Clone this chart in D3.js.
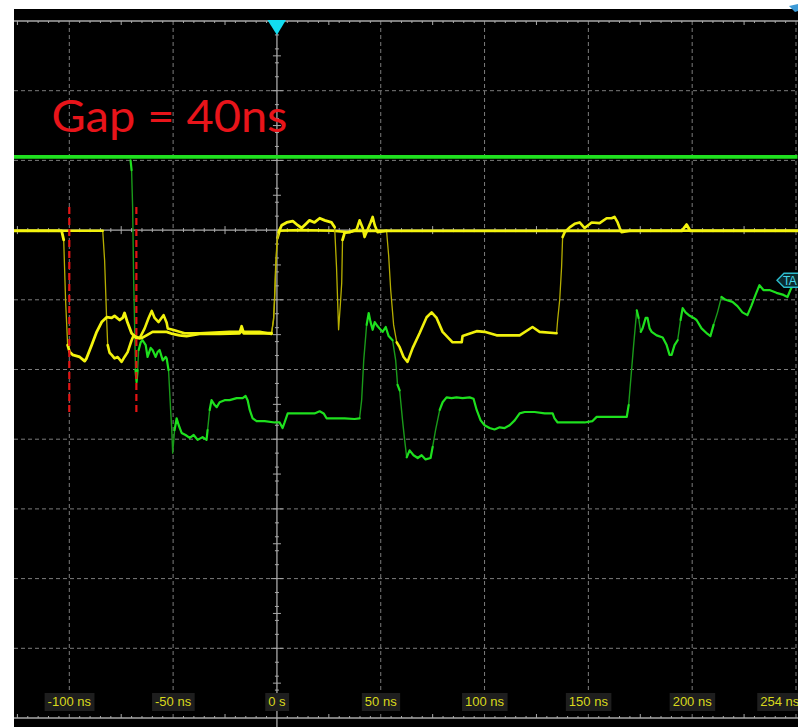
<!DOCTYPE html>
<html>
<head>
<meta charset="utf-8">
<script src="https://cdn.jsdelivr.net/npm/d3@7"></script>
<style>
  html, body { margin: 0; padding: 0; background: #ffffff; }
  svg { display: block; }
</style>
</head>
<body>
<svg id="scope" width="798" height="727"></svg>
<script>
// ---- Horizontal axis (time, ns) ----
const timeTicks = [-100, -50, 0, 50, 100, 150, 200];
const timeTickLabels = ["-100 ns", "-50 ns", "0 s", "50 ns", "100 ns", "150 ns", "200 ns"];
const endTime = 254;
const endTimeLabel = "254 ns";
const gridTimes = [-100, -50, 50, 100, 150, 200, 250];
// ---- Vertical graticule (divisions) ----
const gridLevels = [2, 1, -1, -2, -3, -4, -5, -6];
const frameLevels = [3, 0, -7];

// ---- Annotation and cursors ----
const annotationText = "Gap = 40ns";
const cursorTimes = [-100, -67.7];
const cursorSpan = [0.33, -2.61];
const triggerTime = 0;
const refMarkerLevel = -0.72;
const refMarkerText = "TA";

// ---- Channel traces: [time ns, level div] ----
const greenIdle = [[-126.8, 1.05], [250.7, 1.05]];

const greenData = [
  [-70.5, 1.00], [-70.0, 0.86], [-69.5, 0.33], [-69.0, -0.72], [-68.5, -1.43], [-68.1, -2.01],
  [-67.6, -2.18], [-67.1, -2.01], [-66.6, -1.72], [-65.6, -1.61], [-64.7, -1.58], [-63.2, -1.65],
  [-62.3, -1.82], [-60.8, -1.69], [-59.9, -1.72], [-58.4, -1.82], [-57.5, -1.75], [-56.5, -1.72],
  [-55.0, -1.87], [-53.6, -1.82], [-53.1, -1.84], [-52.2, -2.01], [-51.2, -2.58], [-50.7, -2.83],
  [-50.2, -3.20], [-49.3, -2.87], [-48.3, -2.70], [-47.3, -2.80], [-45.9, -2.91], [-44.0, -2.94],
  [-42.0, -2.98], [-40.1, -2.94], [-38.2, -3.01], [-35.8, -2.97], [-33.9, -3.01], [-33.4, -2.87],
  [-32.4, -2.58], [-31.5, -2.44], [-30.0, -2.51], [-29.0, -2.54], [-27.6, -2.47], [-25.2, -2.44],
  [-22.8, -2.44], [-19.4, -2.41], [-16.5, -2.41], [-15.1, -2.38], [-14.1, -2.44], [-13.1, -2.58],
  [-11.7, -2.70], [-9.8, -2.74], [-5.9, -2.74], [-1.1, -2.76], [1.3, -2.76], [2.7, -2.84],
  [3.7, -2.76], [5.2, -2.63], [8.5, -2.63], [13.3, -2.63], [18.1, -2.63], [20.6, -2.60],
  [22.5, -2.63], [23.9, -2.70], [27.8, -2.70], [32.6, -2.70], [37.4, -2.71], [39.8, -2.70],
  [40.8, -2.44], [41.8, -1.87], [43.2, -1.36], [44.2, -1.19], [45.1, -1.32], [46.1, -1.43],
  [47.1, -1.32], [48.5, -1.38], [50.9, -1.46], [52.4, -1.39], [53.8, -1.52], [55.7, -1.58],
  [57.2, -1.87], [58.1, -2.22], [59.1, -2.30], [60.5, -2.73], [61.5, -3.01], [62.5, -3.26],
  [63.9, -3.16], [65.8, -3.23], [67.8, -3.27], [69.7, -3.23], [71.6, -3.29], [74.0, -3.27],
  [75.0, -3.11], [76.4, -2.87], [78.4, -2.58], [79.8, -2.47], [81.7, -2.40], [84.1, -2.41],
  [86.5, -2.40], [89.4, -2.41], [92.8, -2.40], [94.7, -2.42], [96.2, -2.58], [98.1, -2.73],
  [100.0, -2.80], [102.4, -2.84], [104.8, -2.86], [107.3, -2.83], [109.7, -2.84], [112.1, -2.80],
  [114.5, -2.73], [116.9, -2.63], [119.3, -2.61], [124.1, -2.61], [129.0, -2.63], [132.8, -2.63],
  [133.7, -2.70], [135.2, -2.76], [138.6, -2.76], [143.4, -2.76], [148.2, -2.76], [152.0, -2.74],
  [154.0, -2.68], [157.8, -2.68], [162.6, -2.68], [168.5, -2.68], [169.4, -2.51], [170.4, -2.15],
  [171.8, -1.65], [173.3, -1.15], [174.2, -1.26], [175.2, -1.46], [176.1, -1.41], [177.6, -1.26],
  [178.5, -1.26], [179.5, -1.41], [180.5, -1.46], [182.9, -1.51], [185.8, -1.54], [187.7, -1.65],
  [189.1, -1.79], [190.1, -1.79], [191.5, -1.65], [193.0, -1.58], [194.4, -1.29], [195.4, -1.12],
  [196.8, -1.18], [198.8, -1.23], [200.7, -1.26], [202.1, -1.29], [204.5, -1.41], [207.4, -1.49],
  [208.8, -1.52], [210.3, -1.36], [212.2, -1.18], [214.1, -0.96], [216.1, -1.00], [219.4, -1.03],
  [221.8, -1.09], [224.2, -1.18], [226.6, -1.22], [228.6, -1.08], [230.5, -0.93], [232.4, -0.79],
  [234.3, -0.86], [237.2, -0.86], [240.6, -0.90], [244.0, -0.93], [245.9, -0.96], [247.3, -0.86],
  [248.8, -0.77], [250.7, -0.72]
];

const yellowA = [
  [-126.8, -0.01], [-103.7, -0.01], [-102.7, -0.14], [-101.8, -1.00], [-100.8, -1.65], [-99.8, -1.75],
  [-98.4, -1.79], [-95.0, -1.82], [-92.6, -1.88], [-91.7, -1.84], [-89.2, -1.65], [-86.8, -1.46],
  [-84.4, -1.32], [-82.0, -1.25], [-79.6, -1.26], [-78.2, -1.23], [-75.8, -1.29], [-74.3, -1.26],
  [-73.4, -1.19], [-71.9, -1.33], [-70.0, -1.48], [-67.6, -1.55], [-65.2, -1.55], [-62.8, -1.51],
  [-59.9, -1.46], [-53.1, -1.46], [-50.2, -1.49], [-46.9, -1.51], [-43.5, -1.52], [-37.2, -1.49],
  [-27.6, -1.49], [-18.0, -1.48], [-17.0, -1.38], [-16.0, -1.48], [-8.3, -1.48], [-2.6, -1.48],
  [-1.6, -1.29], [-1.1, -1.00], [-0.6, -0.57], [-0.1, -0.22], [0.8, -0.03], [2.3, 0.07],
  [4.7, 0.11], [7.6, 0.13], [10.0, 0.07], [11.9, 0.03], [14.3, 0.10], [15.7, 0.14],
  [18.1, 0.11], [20.6, 0.17], [23.0, 0.14], [26.3, 0.11], [27.8, 0.04], [28.7, -0.53],
  [29.7, -1.43], [30.7, -1.00], [31.2, -0.76], [31.6, -0.14], [32.6, -0.04], [37.4, -0.01],
  [195.0, -0.01], [197.3, 0.08], [199.0, -0.01], [250.7, -0.01]
];

const yellowB = [
  [-126.8, -0.01], [-83.9, -0.01], [-83.0, -0.43], [-82.0, -1.29], [-81.5, -1.65], [-80.6, -1.76],
  [-79.6, -1.79], [-78.2, -1.84], [-76.7, -1.82], [-74.8, -1.89], [-73.4, -1.82], [-71.9, -1.75],
  [-70.0, -1.58], [-69.0, -1.51], [-66.1, -1.55], [-63.7, -1.41], [-61.8, -1.26], [-60.3, -1.16],
  [-58.9, -1.26], [-57.0, -1.32], [-54.6, -1.22], [-53.1, -1.33], [-52.6, -1.41], [-50.2, -1.43],
  [-44.5, -1.48], [-37.2, -1.48], [-22.8, -1.46], [-8.3, -1.46], [-2.6, -1.49], [-1.6, -1.26],
  [-1.1, -0.93], [-0.6, -0.50], [0.3, -0.11], [1.3, -0.01], [10.9, 0.00], [26.8, -0.01],
  [35.0, -0.03], [38.4, 0.01], [39.8, 0.14], [41.3, 0.03], [42.2, -0.10], [43.7, 0.01],
  [45.1, 0.11], [46.1, 0.19], [47.1, 0.07], [48.5, -0.03], [52.8, -0.01], [53.8, -0.36],
  [54.8, -0.86], [56.2, -1.36], [57.7, -1.61], [59.1, -1.68], [61.0, -1.82], [62.9, -1.89],
  [65.4, -1.69], [68.7, -1.48], [72.1, -1.25], [74.5, -1.18], [76.9, -1.26], [79.8, -1.46],
  [84.6, -1.61], [89.0, -1.61], [89.4, -1.52], [96.2, -1.45], [100.0, -1.46], [105.8, -1.51],
  [116.9, -1.51], [123.1, -1.39], [126.5, -1.46], [134.7, -1.48], [135.2, -1.29], [136.2, -1.00],
  [137.1, -0.53], [137.6, -0.10], [138.6, -0.03], [141.0, 0.04], [143.4, 0.09], [145.8, 0.11],
  [148.2, 0.03], [151.6, 0.11], [155.4, 0.10], [158.8, 0.17], [161.2, 0.17], [162.6, 0.19],
  [164.1, 0.11], [165.1, 0.03], [166.0, -0.03], [169.9, -0.01], [250.7, -0.01]
];

// ---- Layout ----
const W = 798, H = 727;
const screen = { left: 14, top: 9, right: 798, bottom: 727 };

const svg = d3.select("#scope");
const x = d3.scaleLinear().domain([-100, 250]).range([69.3, 796]);
const y = d3.scaleLinear().domain([3, -7]).range([21, 718]);

svg.append("rect").attr("x", 0).attr("y", 0).attr("width", W).attr("height", H).attr("fill", "#ffffff");
svg.append("rect")
  .attr("x", screen.left).attr("y", screen.top)
  .attr("width", screen.right - screen.left).attr("height", screen.bottom - screen.top)
  .attr("fill", "#000000");

svg.append("clipPath").attr("id", "screenClip")
  .append("rect")
  .attr("x", screen.left).attr("y", screen.top)
  .attr("width", screen.right - screen.left).attr("height", screen.bottom - screen.top);

const g = svg.append("g").attr("clip-path", "url(#screenClip)");

// ---- Graticule ----
const grid = g.append("g");
grid.selectAll("line.vgrid").data(gridTimes).join("line")
  .attr("x1", d => x(d)).attr("x2", d => x(d))
  .attr("y1", y(3)).attr("y2", y(-7))
  .attr("stroke", "#7c7c7c").attr("stroke-width", 1).attr("stroke-dasharray", "4,3");
grid.selectAll("line.hgrid").data(gridLevels).join("line")
  .attr("x1", screen.left).attr("x2", screen.right)
  .attr("y1", d => y(d)).attr("y2", d => y(d))
  .attr("stroke", "#7c7c7c").attr("stroke-width", 1).attr("stroke-dasharray", "4,3");

// solid frame lines and centre axes
grid.selectAll("line.frame").data(frameLevels).join("line")
  .attr("x1", screen.left).attr("x2", screen.right)
  .attr("y1", d => y(d)).attr("y2", d => y(d))
  .attr("stroke", "#a9a9a9").attr("stroke-width", 1.3);
grid.append("line")
  .attr("x1", x(0)).attr("x2", x(0)).attr("y1", y(3)).attr("y2", screen.bottom)
  .attr("stroke", "#a9a9a9").attr("stroke-width", 1.3);

// minor ticks along horizontal frame lines (every 5 ns, longer every 25 ns)
const minorTimes = d3.range(-125, 255, 5).filter(t => t % 50 !== 0);
frameLevels.forEach(lv => {
  const dir = lv === 3 ? 1 : (lv === -7 ? -1 : 0);
  grid.selectAll(null).data(minorTimes).join("line")
    .attr("x1", d => x(d)).attr("x2", d => x(d))
    .attr("y1", d => {
      const len = (d % 25 === 0) ? 4 : 2;
      return dir === 0 ? y(lv) - len : y(lv);
    })
    .attr("y2", d => {
      const len = (d % 25 === 0) ? 4 : 2;
      return dir === 0 ? y(lv) + len : y(lv) + dir * len;
    })
    .attr("stroke", "#a9a9a9").attr("stroke-width", 1);
});
// minor ticks along the centre vertical axis (every 0.2 div, longer every 0.5 div)
const minorLevels = d3.range(-7, 3.01, 0.1).map(v => Math.round(v * 10) / 10)
  .filter(v => Math.abs(v * 5 - Math.round(v * 5)) < 1e-6 || Math.abs(v * 2 - Math.round(v * 2)) < 1e-6)
  .filter(v => Math.abs(v - Math.round(v)) > 1e-6);
grid.selectAll(null).data(minorLevels).join("line")
  .attr("x1", d => x(0) - (Math.abs(d * 2 - Math.round(d * 2)) < 1e-6 ? 4 : 2))
  .attr("x2", d => x(0) + (Math.abs(d * 2 - Math.round(d * 2)) < 1e-6 ? 4 : 2))
  .attr("y1", d => y(d)).attr("y2", d => y(d))
  .attr("stroke", "#a9a9a9").attr("stroke-width", 1);
grid.selectAll(null).data(gridLevels).join("line")
  .attr("x1", x(0) - 6).attr("x2", x(0) + 6)
  .attr("y1", d => y(d)).attr("y2", d => y(d))
  .attr("stroke", "#a9a9a9").attr("stroke-width", 1);

// ---- Traces (fast edges drawn thinner and dimmer, like intensity grading) ----
function splitRuns(data) {
  const runs = [];
  let cur = null;
  for (let i = 1; i < data.length; i++) {
    const a = data[i - 1], b = data[i];
    const dx = Math.abs(x(b[0]) - x(a[0]));
    const dy = Math.abs(y(b[1]) - y(a[1]));
    const steep = dy > 12 && dy > 3 * dx;
    if (!cur || cur.steep !== steep) { cur = { steep, pts: [a] }; runs.push(cur); }
    cur.pts.push(b);
  }
  return runs;
}
const line = d3.line().x(d => x(d[0])).y(d => y(d[1]));
function drawTrace(data, bright, dim, w, wDim) {
  const runs = splitRuns(data);
  const tg = g.append("g").attr("fill", "none").attr("stroke-linejoin", "round").attr("stroke-linecap", "round");
  tg.selectAll("path.fast").data(runs.filter(r => r.steep)).join("path")
    .attr("d", r => line(r.pts)).attr("stroke", dim).attr("stroke-width", wDim);
  tg.selectAll("path.slow").data(runs.filter(r => !r.steep)).join("path")
    .attr("d", r => line(r.pts)).attr("stroke", bright).attr("stroke-width", w);
}

// idle green channel
g.append("path").datum(greenIdle)
  .attr("d", line).attr("fill", "none")
  .attr("stroke", "#1fe01f").attr("stroke-width", 3.8);

drawTrace(greenData, "#1ee01e", "#1a9a1a", 2.2, 1.4);
drawTrace(yellowB, "#f0f00c", "#b5ad00", 2.6, 1.3);
drawTrace(yellowA, "#f4f40e", "#b8b000", 2.8, 1.3);

// ---- Cursor markers ----
g.selectAll("line.cursor").data(cursorTimes).join("line")
  .attr("x1", d => x(d)).attr("x2", d => x(d))
  .attr("y1", y(cursorSpan[0])).attr("y2", y(cursorSpan[1]))
  .attr("stroke", "#e41414").attr("stroke-width", 2.2).attr("stroke-dasharray", "7,4");

// ---- Annotation ----
svg.append("text")
  .attr("x", x(-108.6)).attr("y", y(1.41))
  .attr("font-family", "Lato, 'Open Sans', sans-serif")
  .attr("font-size", 44)
  .attr("fill", "#e8141a")
  .attr("textLength", 236).attr("lengthAdjust", "spacingAndGlyphs")
  .text(annotationText);

// ---- Trigger marker ----
const tx = x(triggerTime), ty = y(3);
svg.append("path")
  .attr("d", `M${tx - 9.5},${ty - 1} L${tx + 9},${ty - 1} L${tx},${ty + 14} Z`)
  .attr("fill", "#12dcf0");

// small indicator at top-right corner
svg.append("path")
  .attr("d", "M789,6 L798,4 L798,11 L795,12 Z")
  .attr("fill", "#3d9ad6");

// ---- Reference level marker ----
const my = y(refMarkerLevel);
svg.append("path")
  .attr("d", `M${777},${my} L${784},${my - 7} L${806},${my - 7} L${806},${my + 7} L${784},${my + 7} Z`)
  .attr("fill", "#0b2a2e").attr("stroke", "#2cbccc").attr("stroke-width", 1.4);
svg.append("text")
  .attr("x", 783).attr("y", my + 4.5)
  .attr("font-family", "'Liberation Sans', Arial, sans-serif")
  .attr("font-size", 12).attr("fill", "#45d6e6")
  .attr("letter-spacing", -0.6)
  .text(refMarkerText);

// ---- Time labels ----
const labelY = 706;
const labels = svg.append("g")
  .attr("font-family", "'Liberation Sans', Arial, sans-serif")
  .attr("font-size", 13);
const labelData = timeTicks.map((t, i) => ({ t, text: timeTickLabels[i], anchor: "middle" }));
labelData.push({ t: endTime, text: endTimeLabel, anchor: "end" });
labelData.forEach(d => {
  const lg = labels.append("g");
  const txPos = d.anchor === "end" ? x(d.t) - 5 : x(d.t);
  const rect = lg.append("rect").attr("fill", "#1e1e1e");
  const text = lg.append("text")
    .attr("x", txPos).attr("y", labelY)
    .attr("text-anchor", d.anchor)
    .attr("fill", "#d9d91c")
    .text(d.text);
  const bb = text.node().getBBox();
  rect.attr("x", bb.x - 3).attr("y", 693).attr("width", bb.width + 6).attr("height", 18);
});
</script>
</body>
</html>
